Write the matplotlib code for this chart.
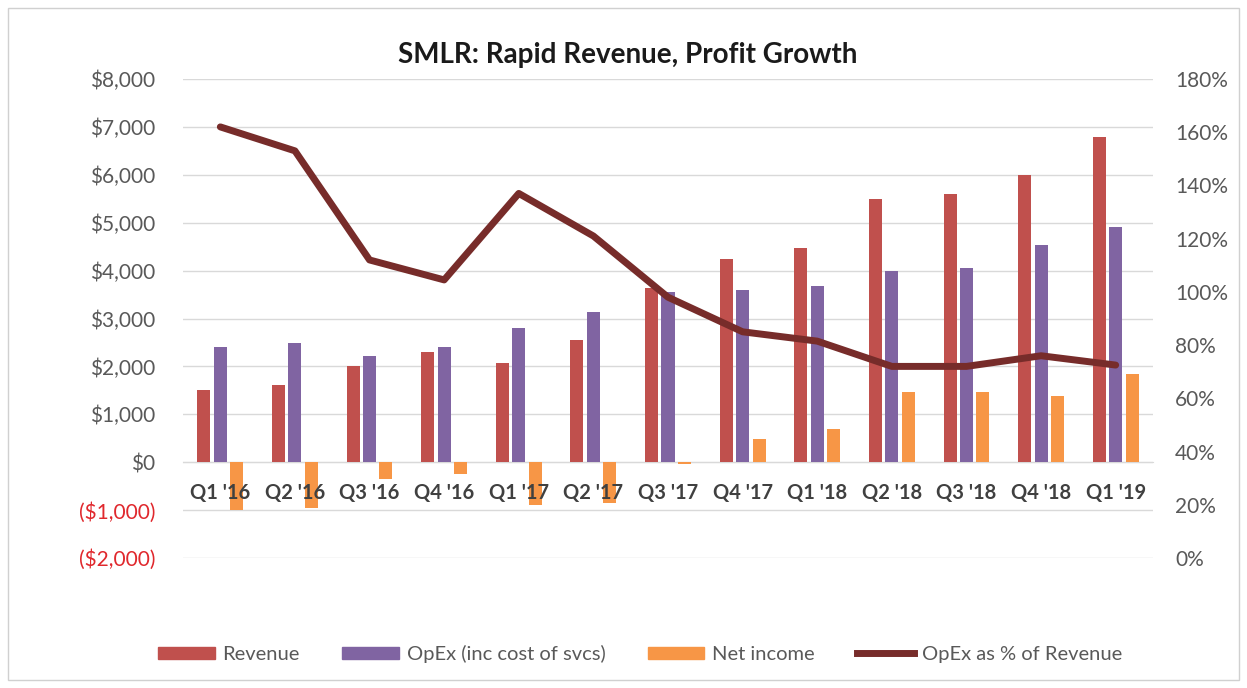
import matplotlib.pyplot as plt
from matplotlib.patches import Patch, Rectangle
from matplotlib.lines import Line2D
from matplotlib.ticker import FuncFormatter
import numpy as np

plt.rcParams['font.family'] = ['Lato', 'DejaVu Sans']

quarters = ["Q1 '16", "Q2 '16", "Q3 '16", "Q4 '16", "Q1 '17", "Q2 '17", "Q3 '17",
            "Q4 '17", "Q1 '18", "Q2 '18", "Q3 '18", "Q4 '18", "Q1 '19"]
revenue = [1500, 1610, 2000, 2300, 2070, 2560, 3630, 4240, 4470, 5490, 5595, 5990, 6780]
opex = [2400, 2490, 2210, 2400, 2800, 3130, 3550, 3590, 3670, 3990, 4050, 4530, 4920]
net_income = [-1000, -960, -355, -250, -900, -860, -40, 480, 690, 1460, 1460, 1380, 1840]
opex_pct = [162, 153, 112, 104.5, 137, 121, 98, 85, 81.5, 72, 72, 76, 72.5]

c_rev = '#c0504d'
c_opex = '#8064a2'
c_net = '#f79646'
c_line = '#772c2a'
grid_c = '#d9d9d9'
txt_c = '#595959'

fig = plt.figure(figsize=(12.47, 6.88), dpi=100)
ax = fig.add_axes([183/1247, 1-558/688, (1153-183)/1247, (558-79)/688])
ax2 = ax.twinx()

x = np.arange(len(quarters))
w = 0.175
off = 0.22
ax.bar(x-off, revenue, w, color=c_rev, zorder=2)
ax.bar(x, opex, w, color=c_opex, zorder=2)
ax.bar(x+off, net_income, w, color=c_net, zorder=2)

ax.set_xlim(-0.5, len(quarters)-0.5)
ax.set_ylim(-2000, 8000)
ax.set_yticks(range(-2000, 8001, 1000))
ax.yaxis.set_major_formatter(FuncFormatter(
    lambda v, p: f"(${-v:,.0f})" if v < 0 else f"${v:,.0f}"))
ax.grid(axis='y', color=grid_c, lw=1)
ax.yaxis.set_zorder(0.5)
ax.xaxis.set_zorder(3)   # category labels sit on top of the net income bars
for s in ['top', 'right', 'left']:
    ax.spines[s].set_visible(False)
ax.spines['bottom'].set_position(('data', 0))
ax.spines['bottom'].set_color(grid_c)
ax.spines['bottom'].set_zorder(1)
ax.set_xticks(x)
ax.set_xticklabels(quarters, fontsize=14.5, color='#404040', fontweight='bold')
ax.tick_params(axis='x', length=0, pad=15)
ax.tick_params(axis='y', length=0, pad=20, labelsize=15, labelcolor=txt_c)
for lab, v in zip(ax.get_yticklabels(), ax.get_yticks()):
    if v < 0:
        lab.set_color('#e0282d')

ax2.plot(x, opex_pct, color=c_line, lw=5, solid_joinstyle='round',
         solid_capstyle='round', zorder=3)
ax2.set_ylim(0, 180)
ax2.set_yticks(range(0, 181, 20))
ax2.yaxis.set_major_formatter(FuncFormatter(lambda v, p: f"{v:.0f}%"))
ax2.tick_params(axis='y', length=0, pad=16, labelsize=15, labelcolor=txt_c)
for s in ['top', 'right', 'left', 'bottom']:
    ax2.spines[s].set_visible(False)

fig.text(628/1247, 1-55/688, "SMLR: Rapid Revenue, Profit Growth", ha='center',
         va='center', fontsize=20, fontweight='bold', color='#1a1a1a')

handles = [Patch(color=c_rev), Patch(color=c_opex), Patch(color=c_net),
           Line2D([], [], color=c_line, lw=5)]
labels = ['Revenue', 'OpEx (inc cost of svcs)', 'Net income', 'OpEx as % of Revenue']
fig.legend(handles, labels, loc='center', bbox_to_anchor=(640/1247, 1-654/688),
           ncol=4, frameon=False, fontsize=14.5, labelcolor=txt_c,
           handlelength=2.8, handleheight=0.6, handletextpad=0.4, columnspacing=2.1)

fig.patches.append(Rectangle((8/1247, 8/688), 1-16/1247, 1-16/688, fill=False,
                             edgecolor='#d0d0d0', lw=1, transform=fig.transFigure))

fig.savefig('out.png', dpi=100)
